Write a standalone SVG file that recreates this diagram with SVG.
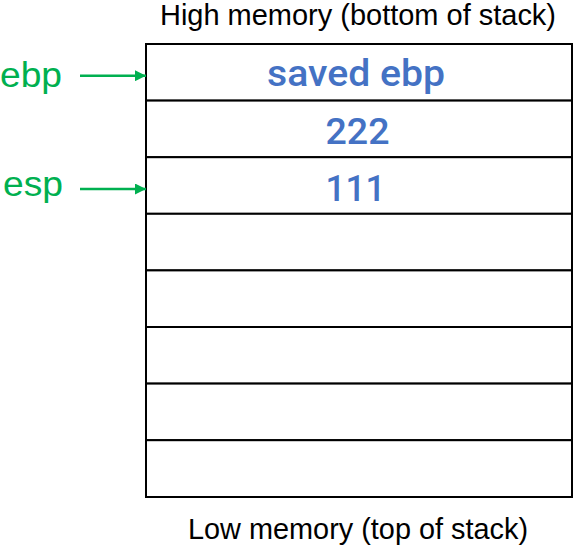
<svg xmlns="http://www.w3.org/2000/svg" width="573" height="547" viewBox="0 0 573 547">
<style>
.lbl{font-family:"Liberation Sans",Arial,sans-serif;font-size:29px;fill:#000}
.reg{font-family:"Liberation Sans",Arial,sans-serif;font-size:35px;fill:#00B050}
.val{font-family:Roboto,"Liberation Sans",sans-serif;font-size:37px;font-weight:500;fill:#4472C4;text-anchor:middle}
.cell{fill:#fff;stroke:#000;stroke-width:2}
.arr{stroke:#00B050;stroke-width:2.5;fill:none}
</style>
<defs>
<marker id="ah" viewBox="0 0 10 10" refX="10" refY="5" markerWidth="14" markerHeight="11" markerUnits="userSpaceOnUse" orient="auto">
<path d="M0,0 L10,5 L0,10 z" fill="#00B050"/>
</marker>
</defs>
<text class="lbl" x="160" y="25" textLength="396" lengthAdjust="spacingAndGlyphs">High memory (bottom of stack)</text>
<g id="stack">
<rect id="slot1" class="cell" x="146" y="44" width="426" height="56.6"/>
<rect id="slot2" class="cell" x="146" y="100.6" width="426" height="56.6"/>
<rect id="slot3" class="cell" x="146" y="157.2" width="426" height="56.6"/>
<rect id="slot4" class="cell" x="146" y="213.8" width="426" height="56.6"/>
<rect id="slot5" class="cell" x="146" y="270.4" width="426" height="56.6"/>
<rect id="slot6" class="cell" x="146" y="327" width="426" height="56.6"/>
<rect id="slot7" class="cell" x="146" y="383.6" width="426" height="56.6"/>
<rect id="slot8" class="cell" x="146" y="440.2" width="426" height="56.8"/>
</g>
<g id="values">
<text class="val" x="356" y="86" textLength="178" lengthAdjust="spacingAndGlyphs">saved ebp</text>
<text class="val" x="357.5" y="144.3" textLength="64" lengthAdjust="spacingAndGlyphs">222</text>
<text class="val" x="355.5" y="200.7" textLength="60" lengthAdjust="spacingAndGlyphs">111</text>
</g>
<g id="ebp"><text class="reg" x="0" y="87" textLength="62" lengthAdjust="spacingAndGlyphs">ebp</text></g>
<g id="esp"><text class="reg" x="3" y="196" textLength="60" lengthAdjust="spacingAndGlyphs">esp</text></g>
<g id="connectors">
<line class="arr" x1="80" y1="75.7" x2="146" y2="75.7" marker-end="url(#ah)"/>
<line class="arr" x1="80" y1="189" x2="146" y2="189" marker-end="url(#ah)"/>
</g>
<text class="lbl" x="188" y="539" textLength="340" lengthAdjust="spacingAndGlyphs">Low memory (top of stack)</text>
</svg>
